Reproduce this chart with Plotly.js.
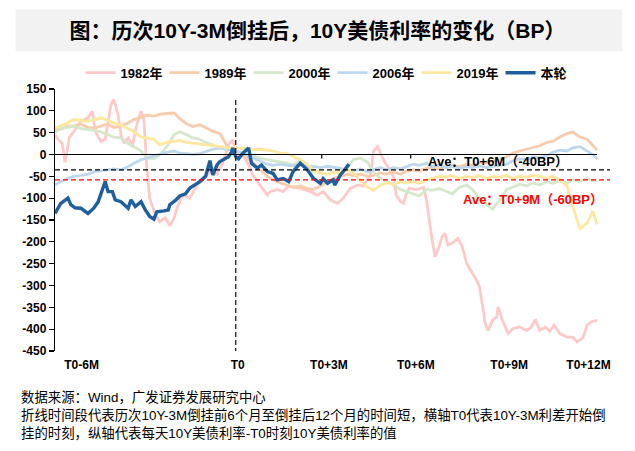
<!DOCTYPE html>
<html>
<head>
<meta charset="utf-8">
<script src="https://cdn.plot.ly/plotly-3.0.1.min.js"></script>
<style>
  html, body { margin: 0; padding: 0; background: #fff; }
  #chart { width: 635px; height: 451px; }
</style>
</head>
<body>
<div id="chart"></div>
<script>
// ---------- DATA (x = trading days relative to T0) ----------
const seriesNames = ['1982年', '1989年', '2000年', '2006年', '2019年', '本轮'];

const gridDays = [-126,-122,-117,-113,-108,-103,-99,-94,-89,-85,
  -80,-75,-71,-66,-62,-57,-53,-48,-43,-39,
  -34,-30,-25,-20,-16,-11,-6,-2,3,8,
  12,17,22,26,31,36,40,45,50,54,
  59,64,68,73,78,82,87,92,96,101,
  105,110,115,119,124,128,133,137,142,147,
  151,156,161,165,170,175,179,184,189,193,
  198,203,207,212,217,221,226,231,235,240,
  245,249,252];

const days1982 = [-126,-124,-121,-119,-116,-113,-108,-103,-100,-98,
  -94,-91,-87,-85,-82,-80,-78,-75,-72,-69,
  -66,-64,-62,-60,-56,-53,-49,-46,-43,-41,
  -37,-32,-27,-23,-18,-13,-9,-5,-2,1,
  5,9,12,17,22,24,29,33,37,41,
  45,52,57,61,66,71,75,80,85,89,
  94,96,99,103,105,108,110,112,115,117,
  119,121,126,131,133,134,135,137,139,141,
  144,146,148,151,155,158,161,165,168,170,
  172,174,176,179,182,183,186,190,193,198,
  203,206,209,212,216,219,222,226,231,235,
  238,242,245,248,252];
const bp1982 = [45,35,25,-18,38,53,76,84,99,53,
  30,35,114,126,91,45,26,38,20,68,
  99,80,-31,-100,-138,-154,-145,-163,-146,-123,
  -93,-100,-70,-58,-39,-45,-20,22,34,-5,
  0,-24,-47,-70,-93,-85,-80,-85,-72,-75,
  -77,-85,-93,-85,-104,-112,-100,-77,-70,-72,
  -47,7,18,-12,-24,-39,-50,-93,-108,-112,
  -90,-77,-81,-75,-104,-135,-150,-196,-234,-219,
  -188,-181,-207,-203,-192,-211,-249,-272,-288,-303,
  -349,-387,-403,-380,-372,-349,-380,-410,-399,-395,
  -403,-395,-378,-403,-395,-405,-391,-410,-418,-418,
  -429,-420,-391,-383,-380];

const bp1989 = [55,58,65,65,70,62,60,65,70,62,
  65,72,80,85,90,88,92,94,95,82,
  70,64,68,60,53,48,20,8,0,-8,
  -18,-35,-50,-58,-65,-70,-75,-72,-78,-80,
  -72,-62,-55,-50,-45,-48,-45,-50,-48,-42,
  -45,-40,-45,-38,-35,-38,-32,-30,-33,-28,
  -25,-28,-22,-25,-20,-18,-15,-12,-5,3,
  8,12,15,20,28,30,40,48,52,40,
  35,20,10];

const bp2000 = [50,60,62,65,60,58,55,52,45,40,
  38,25,18,8,-8,-10,0,18,45,52,
  45,38,35,26,22,15,12,8,5,0,
  -3,-8,-12,-14,-18,-20,-24,-15,-25,-38,
  -42,-45,-40,-45,-30,-12,-8,-18,-40,-55,
  -62,-70,-80,-85,-90,-95,-80,-82,-78,-85,
  -90,-75,-70,-80,-100,-115,-125,-105,-80,-75,
  -68,-72,-65,-70,-62,-66,-60,-65,-58,-62,
  -55,-60,-58];

const bp2006 = [-70,-62,-55,-50,-48,-45,-40,-37,-35,-33,
  -35,-28,-20,-12,-8,-3,0,5,8,3,
  2,0,2,8,12,15,13,10,5,-2,
  -8,-16,-22,-25,-22,-25,-26,-24,-28,-27,
  -30,-27,-30,-32,-35,-38,-33,-40,-35,-30,
  -35,-30,-33,-28,-22,-25,-20,-28,-25,-30,
  -27,-32,-28,-30,-26,-30,-27,-25,-22,-15,
  -10,-12,-5,-8,-2,5,10,8,15,18,
  8,0,-10];

const bp2019 = [60,65,72,80,78,76,80,84,78,72,
  68,60,52,40,38,35,22,28,30,32,
  28,26,24,22,20,18,16,15,14,14,
  11,12,10,8,3,2,-5,-12,-22,-35,
  -42,-45,-42,-38,-35,-42,-60,-75,-82,-70,
  -65,-68,-62,-65,-62,-66,-58,-55,-50,-52,
  -48,-55,-50,-53,-48,-55,-50,-52,-48,-55,
  -50,-52,-48,-50,-55,-50,-58,-72,-119,-170,
  -157,-130,-160];

const daysNow = [-126,-122,-117,-115,-112,-108,-103,-99,-96,-92,
  -91,-89,-86,-84,-80,-75,-73,-70,-66,-63,
  -60,-57,-55,-50,-47,-46,-42,-39,-35,-32,
  -28,-25,-21,-20,-18,-16,-13,-11,-9,-5,
  -3,-2,0,2,5,9,11,15,18,22,
  26,29,33,37,40,45,50,54,59,61,
  64,68,69,73,76,79];
const bpNow = [-135,-112,-100,-115,-122,-123,-135,-123,-109,-75,
  -62,-85,-85,-104,-108,-123,-104,-119,-108,-127,
  -142,-148,-131,-129,-127,-115,-105,-95,-90,-77,
  -68,-62,-50,-35,-14,-47,-24,-16,-12,-5,
  5,15,-5,-10,3,15,-20,-31,-24,-39,
  -43,-58,-55,-62,-39,-20,-35,-54,-66,-55,
  -66,-58,-70,-47,-35,-22];

const avgLevels = [-35, -58];              // dashed average lines (BP)
const avgLabels = ['Ave：T0+6M（-40BP）', 'Ave：T0+9M（-60BP）'];
const xTickDays = [-107.5, 1.4, 65, 125.6, 190.7, 246];
const xTickText = ['T0-6M', 'T0', 'T0+3M', 'T0+6M', 'T0+9M', 'T0+12M'];
const yTickVals = [150,100,50,0,-50,-100,-150,-200,-250,-300,-350,-400,-450];

// ---------- STYLE ----------
const colors = ['#FFC9C9', '#F8CBAD', '#D6E8CC', '#BDD7EE', '#FFE7A0', '#1F5F9E'];
const FONT = 'Arial, "Liberation Sans", "Noto Sans CJK SC", sans-serif';

const xs = [days1982, gridDays, gridDays, gridDays, gridDays, daysNow];
const ys = [bp1982, bp1989, bp2000, bp2006, bp2019, bpNow];

const traces = seriesNames.map((n, i) => ({
  type: 'scatter', mode: 'lines', name: n,
  x: xs[i], y: ys[i],
  line: { color: colors[i], width: i === 5 ? 3.4 : 2.8 },
  hoverinfo: 'skip'
}));

const shapes = [
  // title background
  { type: 'rect', xref: 'paper', yref: 'paper', layer: 'below',
    x0: -0.0711, x1: 1.0216, y0: 1.1427, y1: 1.3034,
    fillcolor: '#F2F2F2', line: { width: 0 } },
  // zero line (category axis) with two small ticks
  { type: 'line', xref: 'x', yref: 'y', x0: -126, x1: 252, y0: 0, y1: 0,
    line: { color: '#000', width: 1.2 } },
  { type: 'line', xref: 'x', yref: 'y', x0: 60, x1: 60, y0: 0, y1: -9,
    line: { color: '#000', width: 1.2 } },
  { type: 'line', xref: 'x', yref: 'y', x0: 122, x1: 122, y0: 0, y1: -9,
    line: { color: '#000', width: 1.2 } },
  // T0 vertical dashed
  { type: 'line', xref: 'x', yref: 'y', x0: 0, x1: 0, y0: 125, y1: -450,
    line: { color: '#222', width: 1.3, dash: '5px,3px' } },
  // average dashed lines
  { type: 'line', xref: 'x', yref: 'y', x0: -126, x1: 261, y0: avgLevels[0], y1: avgLevels[0],
    line: { color: '#000', width: 1.3, dash: '5px,3px' } },
  { type: 'line', xref: 'x', yref: 'y', x0: -126, x1: 261, y0: avgLevels[1], y1: avgLevels[1],
    line: { color: '#FF0000', width: 1.3, dash: '5px,3px' } }
];

const FOOT = 13.4;
const annotations = [
  { xref: 'x', yref: 'y', x: 183, y: -17, text: avgLabels[0], showarrow: false,
    font: { family: FONT, size: 13, color: '#000', weight: 'bold' } },
  { xref: 'x', yref: 'y', x: 207, y: -104, text: avgLabels[1], showarrow: false,
    font: { family: FONT, size: 13, color: '#FF0000', weight: 'bold' } },
  { xref: 'paper', yref: 'paper', x: -0.0657, y: -0.177, xanchor: 'left', yanchor: 'middle',
    text: '数据来源：Wind，广发证券发展研究中心', showarrow: false,
    font: { family: FONT, size: FOOT, color: '#000' } },
  { xref: 'paper', yref: 'paper', x: -0.0657, y: -0.246, xanchor: 'left', yanchor: 'middle',
    text: '折线时间段代表历次10Y-3M倒挂前6个月至倒挂后12个月的时间短，横轴T0代表10Y-3M利差开始倒', showarrow: false,
    font: { family: FONT, size: FOOT, color: '#000' } },
  { xref: 'paper', yref: 'paper', x: -0.0657, y: -0.3148, xanchor: 'left', yanchor: 'middle',
    text: '挂的时刻，纵轴代表每天10Y美债利率-T0时刻10Y美债利率的值', showarrow: false,
    font: { family: FONT, size: FOOT, color: '#000' } }
];

const layout = {
  width: 635, height: 451,
  margin: { l: 55, r: 25, t: 89, b: 100 },
  paper_bgcolor: '#fff', plot_bgcolor: '#fff',
  font: { family: FONT, color: '#000' },
  title: {
    text: '图：历次10Y-3M倒挂后，10Y美债利率的变化（BP）',
    font: { family: FONT, size: 21, color: '#000', weight: 'bold' },
    x: 0.5, xref: 'container', y: 0.932, yref: 'container', yanchor: 'middle'
  },
  showlegend: true,
  legend: {
    orientation: 'h', x: 0.046, xanchor: 'left', y: 1.062, yanchor: 'middle',
    font: { family: FONT, size: 13, color: '#000', weight: 'bold' },
    entrywidth: 39, entrywidthmode: 'pixels', bgcolor: 'rgba(0,0,0,0)',
    traceorder: 'normal'
  },
  xaxis: {
    range: [-126, 261], showgrid: false, zeroline: false, showline: false,
    tickmode: 'array', tickvals: xTickDays, ticktext: xTickText, ticks: '',
    ticklabelstandoff: 5,
    tickfont: { family: FONT, size: 12, color: '#000', weight: 'bold' }
  },
  yaxis: {
    range: [-450, 150], showgrid: false, zeroline: false,
    showline: true, linecolor: '#000', linewidth: 1.2,
    ticks: 'outside', ticklen: 5, tickcolor: '#000', tickwidth: 1.2,
    tickmode: 'array', tickvals: yTickVals, ticktext: yTickVals.map(String),
    tickfont: { family: FONT, size: 12, color: '#000', weight: 'bold' }
  },
  shapes: shapes,
  annotations: annotations
};

Plotly.newPlot('chart', traces, layout, { staticPlot: true, displayModeBar: false });
</script>
</body>
</html>
